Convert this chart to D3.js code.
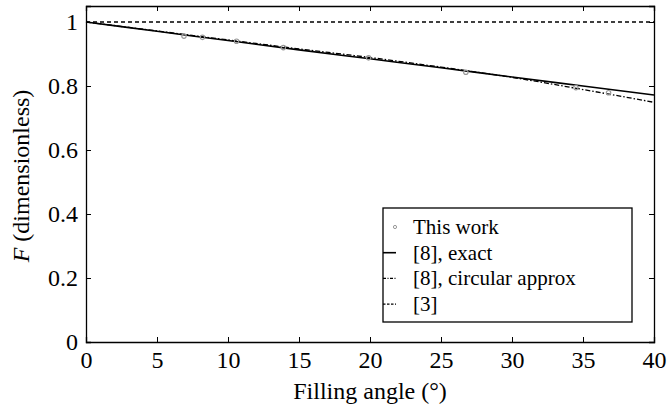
<!DOCTYPE html>
<html>
<head>
<meta charset="utf-8">
<script src="https://cdn.jsdelivr.net/npm/d3@7"></script>
</head>
<body style="margin:0">
<div id="container"></div>
<script>
/* DATA */
const angles = [0, 5, 10, 15, 20, 25, 30, 35, 40];
const exactF = [1, 0.971, 0.942, 0.913, 0.885, 0.857, 0.828, 0.800, 0.772];
const circularF = [1, 0.972, 0.944, 0.916, 0.889, 0.859, 0.827, 0.789, 0.749];
const refF = [1, 1, 1, 1, 1, 1, 1, 1, 1];
const workAngles = [6.9, 8.2, 10.6, 13.9, 19.9, 26.75, 34.5, 36.8];
const workF = [0.956, 0.952, 0.94, 0.92, 0.888, 0.843, 0.795, 0.779];
const xTicks = [0, 5, 10, 15, 20, 25, 30, 35, 40];
const yTicks = [0, 0.2, 0.4, 0.6, 0.8, 1];
const legendLabels = ["This work", "[8], exact", "[8], circular approx", "[3]"];

/* CONSTANTS */
const width = 668, height = 409;
const mLeft = 86, mRight = 654, mTop = 6, mBottom = 342;
const fontName = "Liberation Serif";
const fs = 24;

const svg = d3.select("#container")
  .append("svg")
  .attr("width", width)
  .attr("height", height)

/* SCALES */
const x = d3.scaleLinear().domain([0, 40]).range([mLeft, mRight])
const y = d3.scaleLinear().domain([0, 1.05]).range([mBottom, mTop])

/* AXES */
const fmt = d => d === 0 ? "0" : d === 1 ? "1" : d3.format(".1f")(d)
svg.append("g")
  .attr("transform", `translate(0,${mBottom})`)
  .call(d3.axisBottom(x).tickValues(xTicks).tickSize(-5).tickPadding(9).tickFormat(d3.format("d")))
svg.append("g")
  .attr("transform", `translate(${mLeft},0)`)
  .call(d3.axisLeft(y).tickValues(yTicks).tickSize(-5).tickPadding(8).tickFormat(fmt))
svg.append("g")
  .attr("transform", `translate(0,${mTop})`)
  .call(d3.axisTop(x).tickValues(xTicks).tickSize(-5).tickFormat(""))
svg.append("g")
  .attr("transform", `translate(${mRight},0)`)
  .call(d3.axisRight(y).tickValues(yTicks).tickSize(-5).tickFormat(""))

svg.selectAll("g").attr("font-family", fontName).attr("font-size", fs)
svg.selectAll(".domain").attr("stroke", "#000").attr("stroke-width", 1.3)
svg.selectAll(".tick line").attr("stroke", "#000")
svg.selectAll(".tick text").attr("font-family", fontName).attr("font-size", fs).attr("fill", "#000")

/* LINES */
const line = d3.line().x((d, i) => x(angles[i])).y(d => y(d))
const curve = d3.line().curve(d3.curveMonotoneX).x((d, i) => x(angles[i])).y(d => y(d))
svg.append("path").datum(refF).attr("d", line)
  .attr("fill", "none").attr("stroke", "#000").attr("stroke-width", 1.3).attr("stroke-dasharray", "4,3")
svg.append("path").datum(circularF).attr("d", curve)
  .attr("fill", "none").attr("stroke", "#000").attr("stroke-width", 1.3).attr("stroke-dasharray", "5,2,1.5,2")
svg.append("path").datum(exactF).attr("d", curve)
  .attr("fill", "none").attr("stroke", "#000").attr("stroke-width", 1.6)

svg.selectAll("circle.work")
  .data(workF)
  .join("circle")
  .attr("class", "work")
  .attr("cx", (d, i) => x(workAngles[i]))
  .attr("cy", d => y(d))
  .attr("r", 2.2)
  .attr("fill", "none")
  .attr("stroke", "#999")
  .attr("stroke-width", 1.2)

/* AXIS LABELS */
svg.append("text")
  .attr("x", (mLeft + mRight) / 2).attr("y", 399)
  .attr("text-anchor", "middle")
  .attr("font-size", fs)
  .attr("font-family", fontName)
  .text("Filling angle (°)")
const yl = svg.append("text")
  .attr("transform", `translate(29,176) rotate(-90)`)
  .attr("text-anchor", "middle")
  .attr("font-size", fs)
  .attr("font-family", fontName)
yl.append("tspan").attr("font-style", "italic").text("F")
yl.append("tspan").text(" (dimensionless)")

/* LEGEND */
const lg = svg.append("g").attr("transform", "translate(383,208)")
lg.append("rect").attr("width", 249).attr("height", 114)
  .attr("fill", "#fff").attr("stroke", "#000").attr("stroke-width", 1.3)
const rowY = i => 26 + i * 25.7
const styles = [null, { dash: null, w: 1.6 }, { dash: "3,1.5,1,1.5", w: 1.1 }, { dash: "2.5,1.5", w: 1.2 }]
legendLabels.forEach((lab, i) => {
  if (i === 0) {
    lg.append("circle").attr("cx", 12).attr("cy", rowY(i) - 7).attr("r", 1.6)
      .attr("fill", "none").attr("stroke", "#999").attr("stroke-width", 1)
  } else {
    lg.append("line").attr("x1", 0).attr("x2", 13).attr("y1", rowY(i) - 7).attr("y2", rowY(i) - 7)
      .attr("stroke", "#000").attr("stroke-width", styles[i].w)
      .attr("stroke-dasharray", styles[i].dash)
  }
  lg.append("text").attr("x", 30).attr("y", rowY(i))
    .attr("font-size", 21)
    .attr("font-family", fontName)
    .text(lab)
})
</script>
</body>
</html>
